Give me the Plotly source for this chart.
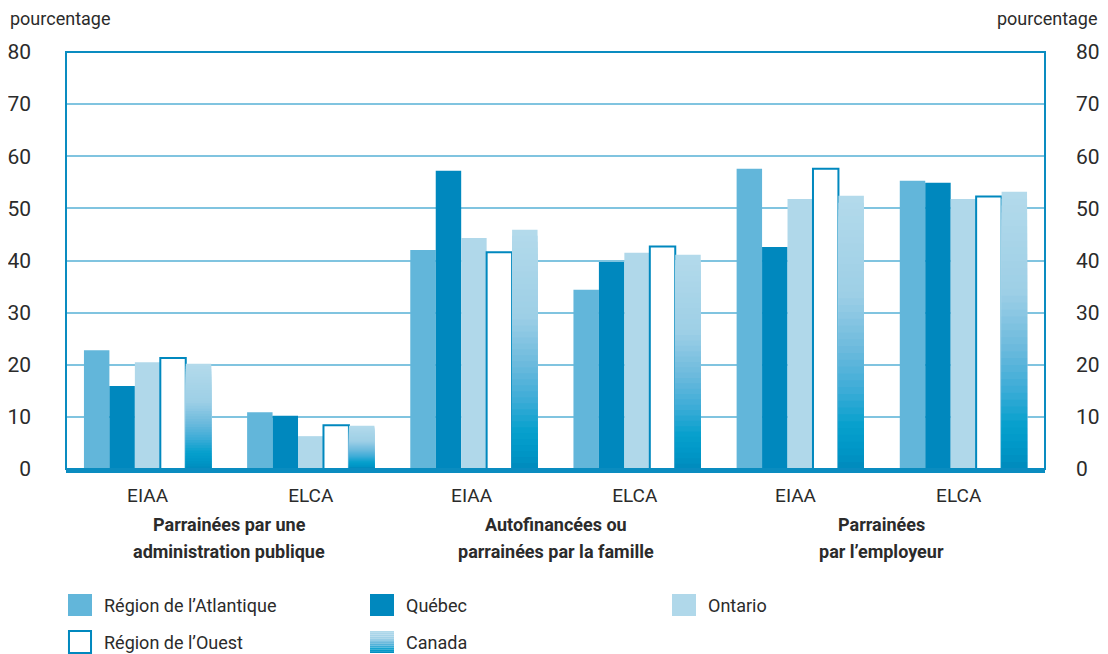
"""Formation selon la source de financement et la région (EIAA / ELCA)."""

import plotly.graph_objects as go

CATEGORIES = ["EIAA", "ELCA", "EIAA ", "ELCA ", "EIAA  ", "ELCA  "]
GROUP_TITLES = [
    ("Parrainées par une", "administration publique"),
    ("Autofinancées ou", "parrainées par la famille"),
    ("Parrainées", "par l’employeur"),
]

ATLANTIQUE = [22.8, 10.9, 42.0, 34.4, 57.6, 55.3]
QUEBEC = [15.9, 10.2, 57.2, 39.7, 42.6, 54.9]
ONTARIO = [20.5, 6.3, 44.3, 41.5, 51.8, 51.8]
OUEST = [21.3, 8.4, 41.6, 42.7, 57.6, 52.3]
CANADA = [20.2, 8.3, 45.9, 41.1, 52.4, 53.2]

Y_TICKS = [0, 10, 20, 30, 40, 50, 60, 70, 80]

FONT = "Roboto, Arial, sans-serif"
TEXT = "#2b2b2b"
C_ATL = "#62b6da"
C_QUE = "#0088be"
C_ONT = "#b0d8ea"
C_GRID = "#80c4e0"
C_FRAME = "#0a8cc0"

# top -> bottom colour stops of the Canada bars
GRADIENT = [
    (0.00, (179, 218, 235)),
    (0.35, (157, 207, 230)),
    (0.55, (108, 186, 221)),
    (0.70, (60, 172, 215)),
    (0.83, (6, 160, 205)),
    (0.92, (0, 150, 198)),
    (1.00, (0, 136, 187)),
]
N_SLICES = 40

# page is 1108x654 but the html body has an 8px margin
PAGE_W, PAGE_H, BODY = 1108, 654, 8
# plot area in page pixels, used to place the hand-made legend
L, R, T, B = 66, 1045, 52, 469


def grad_color(t):
    for (p0, c0), (p1, c1) in zip(GRADIENT, GRADIENT[1:]):
        if p0 <= t <= p1:
            f = (t - p0) / (p1 - p0)
            r, g, b = (round(a + (b_ - a) * f) for a, b_ in zip(c0, c1))
            return f"rgb({r},{g},{b})"
    return "rgb(0,136,187)"


def px(x, y):
    return (x - L) / (R - L), (B - y) / (B - T)


fig = go.Figure()

fig.add_trace(go.Bar(x=CATEGORIES, y=ATLANTIQUE, name="Région de l’Atlantique",
                     marker=dict(color=C_ATL, line_width=0), offsetgroup="atl"))
fig.add_trace(go.Bar(x=CATEGORIES, y=QUEBEC, name="Québec",
                     marker=dict(color=C_QUE, line_width=0), offsetgroup="que"))
fig.add_trace(go.Bar(x=CATEGORIES, y=ONTARIO, name="Ontario",
                     marker=dict(color=C_ONT, line_width=0), offsetgroup="ont"))
fig.add_trace(go.Bar(x=CATEGORIES, y=OUEST, name="Région de l’Ouest",
                     marker=dict(color="white", line=dict(color=C_QUE, width=2)),
                     offsetgroup="oue"))

# Canada: nested bars from tallest (light) to shortest (dark) to fake a gradient
for k in range(N_SLICES):
    frac = 1 - k / N_SLICES
    fig.add_trace(go.Bar(
        x=CATEGORIES, y=[v * frac for v in CANADA], name="Canada",
        marker=dict(color=grad_color(k / N_SLICES), line_width=0),
        offsetgroup="can", showlegend=False, hoverinfo="skip" if k else None,
    ))

# invisible trace so the right-hand axis gets drawn
fig.add_trace(go.Scatter(x=CATEGORIES, y=ATLANTIQUE, yaxis="y2", mode="markers",
                         marker_opacity=0, showlegend=False, hoverinfo="skip"))

axis_font = dict(family=FONT, size=21, color=TEXT)
fig.update_layout(
    width=PAGE_W - BODY, height=PAGE_H - BODY,
    margin=dict(l=L - BODY, r=PAGE_W - R, t=T - BODY, b=PAGE_H - B,
                autoexpand=False),
    paper_bgcolor="white", plot_bgcolor="white",
    barmode="group", bargap=0.22, bargroupgap=0,
    showlegend=False,
    font=dict(family=FONT, color=TEXT),
    xaxis=dict(
        type="category", showgrid=False, showline=True, linewidth=4,
        linecolor=C_FRAME, ticks="", tickfont=dict(family=FONT, size=19, color=TEXT),
        ticklabelstandoff=6, automargin=False,
    ),
    yaxis=dict(
        range=[0, 80], tickvals=Y_TICKS, showgrid=True, gridcolor=C_GRID,
        gridwidth=2, zeroline=False, showline=False, ticks="",
        tickfont=axis_font, ticklabelstandoff=34, automargin=False,
    ),
    yaxis2=dict(
        range=[0, 80], tickvals=Y_TICKS, overlaying="y", side="right",
        showgrid=False, zeroline=False, showline=False, ticks="",
        tickfont=axis_font, ticklabelstandoff=30, automargin=False,
    ),
)

# frame around the plot area
fig.add_shape(type="rect", xref="paper", yref="paper", x0=0, x1=1, y0=0, y1=1,
              line=dict(color=C_FRAME, width=2), layer="above")

ann = []
ann.append(dict(text="pourcentage", xref="paper", yref="paper", x=px(8, 0)[0],
                y=px(0, 18)[1], xanchor="left", yanchor="middle", showarrow=False,
                font=dict(size=18)))
ann.append(dict(text="pourcentage", xref="paper", yref="paper", x=px(1099, 0)[0],
                y=px(0, 18)[1], xanchor="right", yanchor="middle", showarrow=False,
                font=dict(size=18)))

for i, (l1, l2) in enumerate(GROUP_TITLES):
    for j, line in enumerate((l1, l2)):
        ann.append(dict(text=f"<b>{line}</b>", xref="x", yref="paper", x=2 * i + 0.5,
                        y=px(0, 524 + 27 * j)[1], xanchor="center", yanchor="middle",
                        showarrow=False, font=dict(size=18)))

legend_items = [
    ("Région de l’Atlantique", C_ATL, 68, 605),
    ("Québec", C_QUE, 370, 605),
    ("Ontario", C_ONT, 672, 605),
    ("Région de l’Ouest", None, 68, 642),
    ("Canada", "grad", 370, 642),
]
for label, color, x0, yc in legend_items:
    sx0, sy0 = px(x0, yc + 11)
    sx1, sy1 = px(x0 + 24, yc - 11)
    if color is None:
        fig.add_shape(type="rect", xref="paper", yref="paper", x0=sx0 + 0.001,
                      x1=sx1 - 0.001, y0=sy0, y1=sy1,
                      line=dict(color=C_QUE, width=2), fillcolor="white")
    elif color == "grad":
        n = 12
        for k in range(n):
            ya = sy1 - (sy1 - sy0) * k / n
            yb = sy1 - (sy1 - sy0) * (k + 1) / n
            fig.add_shape(type="rect", xref="paper", yref="paper", x0=sx0, x1=sx1,
                          y0=yb, y1=ya, line_width=0,
                          fillcolor=grad_color((k + 0.5) / n))
    else:
        fig.add_shape(type="rect", xref="paper", yref="paper", x0=sx0, x1=sx1,
                      y0=sy0, y1=sy1, line_width=0, fillcolor=color)
    tx, ty = px(x0 + 34, yc)
    ann.append(dict(text=label, xref="paper", yref="paper", x=tx, y=ty,
                    xanchor="left", yanchor="middle", showarrow=False,
                    font=dict(size=18)))

fig.update_layout(annotations=ann)
fig.write_html("out.html")
